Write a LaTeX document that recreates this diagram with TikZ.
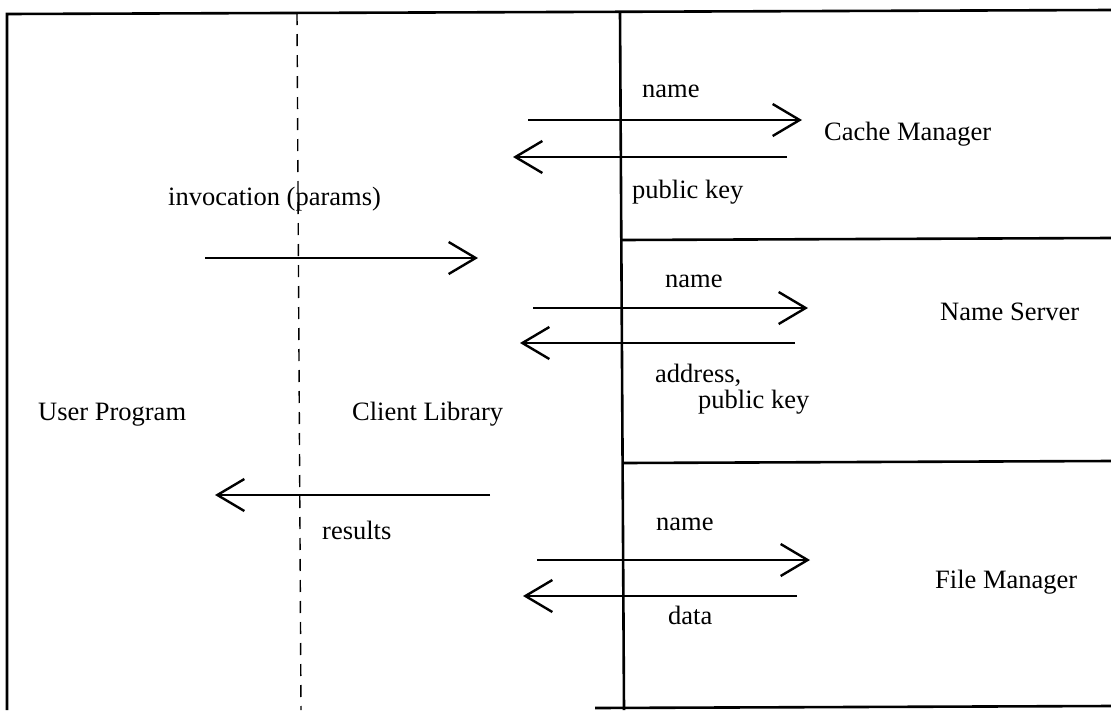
\documentclass[tikz,border=0pt]{standalone}
\usepackage{fontspec}
\setmainfont{Liberation Serif}
\usetikzlibrary{arrows.meta}
\begin{document}
\begin{tikzpicture}[x=1pt,y=-1pt,
  frame/.style={line width=2.6pt},
  sep/.style={line width=1.4pt, dash pattern=on 12pt off 9pt},
  msg/.style={line width=1.3pt, -{Straight Barb[length=27pt,width=32pt,line width=2.4pt]}},
  lbl/.style={anchor=base west, inner sep=0pt, font=\fontsize{26.5}{29}\selectfont}]
\useasboundingbox (0,0) rectangle (1111,710);
% frame
\draw[frame] (7,710) -- (7,14) -- (1111,10);
\draw[frame] (620,12) -- (624,710);
\draw[frame] (622,240) -- (1111,238);
\draw[frame] (623,463) -- (1111,461);
\draw[frame] (595,708) -- (1111,706);
\draw[sep] (297,13) -- (301,710);
% labels
\node[lbl] (up) at (38,420) {User Program};
\node[lbl] (cl) at (352,420) {Client Library};
\node[lbl] (inv) at (168,205) {invocation (params)};
\node[lbl] (res) at (322,539) {results};
\node[lbl] (cm) at (824,140) {Cache Manager};
\node[lbl] (ns) at (940,320) {Name Server};
\node[lbl] (fm) at (935,588) {File Manager};
\node[lbl] (cn) at (642,97) {name};
\node[lbl] (cp) at (632,198) {public key};
\node[lbl] (nn) at (665,287) {name};
\node[lbl] (na) at (655,382) {address,};
\node[lbl] (np) at (698,408) {public key};
\node[lbl] (fn) at (656,530) {name};
\node[lbl] (fd) at (668,624) {data};
% arrow end points
\coordinate (i1) at (205,258); \coordinate (i2) at (478,258);
\coordinate (r1) at (490,495); \coordinate (r2) at (215,495);
\coordinate (c1a) at (528,120); \coordinate (c1b) at (802,120);
\coordinate (c2a) at (787,157); \coordinate (c2b) at (513,157);
\coordinate (n1a) at (533,308); \coordinate (n1b) at (808,308);
\coordinate (n2a) at (795,343); \coordinate (n2b) at (520,343);
\coordinate (f1a) at (537,560); \coordinate (f1b) at (810,560);
\coordinate (f2a) at (797,596); \coordinate (f2b) at (523,596);
\draw[msg] (i1) -- (i2);
\draw[msg] (r1) -- (r2);
\draw[msg] (c1a) -- (c1b);
\draw[msg] (c2a) -- (c2b);
\draw[msg] (n1a) -- (n1b);
\draw[msg] (n2a) -- (n2b);
\draw[msg] (f1a) -- (f1b);
\draw[msg] (f2a) -- (f2b);
\end{tikzpicture}
\end{document}
